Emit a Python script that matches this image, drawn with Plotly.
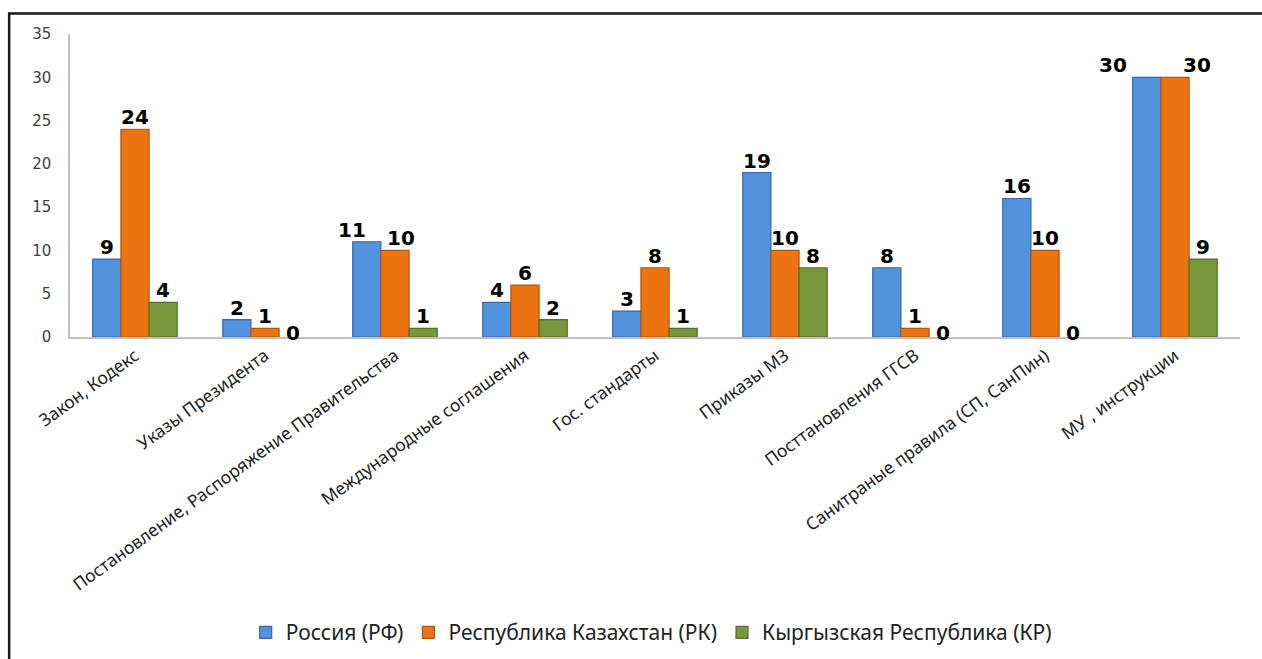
import plotly.graph_objects as go

categories = [
    "Закон, Кодекс",
    "Указы Президента",
    "Постановление, Распоряжение Правительства",
    "Международные соглашения",
    "Гос. стандарты",
    "Приказы МЗ",
    "Посттановления ГГСВ",
    "Санитраные правила (СП, СанПин)",
    "МУ , инструкции",
]

russia = [9, 2, 11, 4, 3, 19, 8, 16, 30]
kazakhstan = [24, 1, 10, 6, 8, 10, 1, 10, 30]
kyrgyzstan = [4, 0, 1, 2, 1, 8, 0, 0, 9]

series = [
    ("Россия (РФ)", russia, "#5392DD", "#3468AE"),
    ("Республика Казахстан (РК)", kazakhstan, "#EB7312", "#B5560A"),
    ("Кыргызская Республика (КР)", kyrgyzstan, "#78973A", "#56702A"),
]

# plot geometry (px)
W, H = 1262, 659
ML, MR, MT, MB = 70, 22, 34, 322
BARGAP = 0.35
plot_w = W - ML - MR
bar_px = plot_w / len(categories) * (1 - BARGAP) / len(series)

# sideways nudges for labels that would collide with neighbours
label_nudge = {(0, 2): -15, (1, 2): 6, (0, 8): -34, (1, 8): 22}

fig = go.Figure()
annotations = []
for i, (name, values, fill, edge) in enumerate(series):
    fig.add_trace(go.Bar(
        name=name,
        x=categories,
        y=values,
        marker=dict(
            color=fill,
            line=dict(color=edge, width=[1.2 if v else 0 for v in values]),
        ),
    ))
    for j, v in enumerate(values):
        annotations.append(dict(
            x=categories[j],
            y=v,
            xref="x",
            yref="y",
            text=str(v),
            showarrow=False,
            xanchor="center",
            yanchor="bottom" if v else "middle",
            xshift=(i - 1) * bar_px + label_nudge.get((i, j), 0),
            yshift=-2 if v else 4,
            font=dict(family="DejaVu Sans", size=20, color="#000000", weight="bold"),
        ))

fig.update_layout(
    width=W,
    height=H,
    margin=dict(l=ML, r=MR, t=MT, b=MB, autoexpand=False),
    paper_bgcolor="white",
    plot_bgcolor="white",
    barmode="group",
    bargap=BARGAP,
    bargroupgap=0,
    font=dict(family="Noto Sans", color="#222222"),
    showlegend=True,
    legend=dict(
        orientation="h",
        xref="container",
        yref="container",
        x=0.516,
        xanchor="center",
        y=0.04,
        yanchor="middle",
        font=dict(family="Noto Sans", size=21, color="#222222"),
        itemwidth=30,
    ),
    annotations=annotations,
    shapes=[
        dict(
            type="rect",
            xref="paper",
            yref="paper",
            x0=-0.052,
            x1=1.2,
            y0=-1.2,
            y1=1.068,
            line=dict(color="#1a1a1a", width=2.5),
            fillcolor="rgba(0,0,0,0)",
            layer="below",
        )
    ],
)

fig.update_xaxes(
    tickangle=-36,
    tickfont=dict(family="Noto Sans", size=17.5, color="#222222"),
    showline=True,
    linecolor="#BFBFBF",
    linewidth=1.5,
    ticks="",
    showgrid=False,
    automargin=False,
)

fig.update_yaxes(
    range=[0, 35],
    dtick=5,
    tickfont=dict(family="DejaVu Sans", size=15, color="#404040"),
    showline=True,
    linecolor="#BFBFBF",
    linewidth=1.5,
    ticks="",
    ticklabelstandoff=14,
    showgrid=False,
    zeroline=False,
    automargin=False,
)

fig.write_html("out.html")
